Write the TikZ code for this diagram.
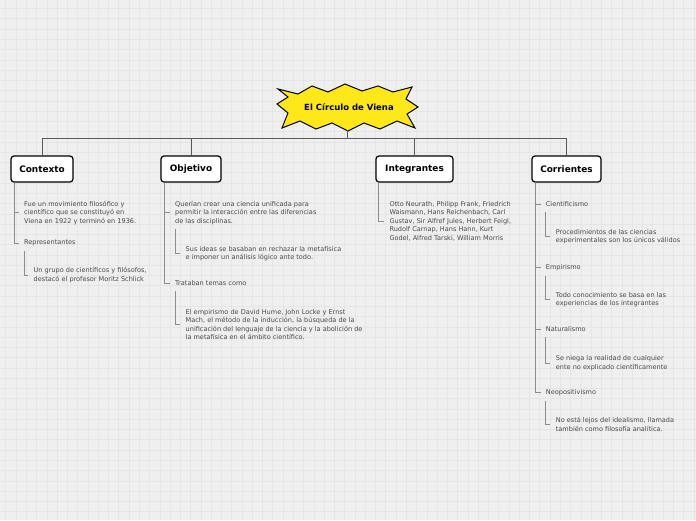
\documentclass[tikz,border=0pt]{standalone}
\usepackage{fontspec}
\setmainfont{DejaVu Sans}
\definecolor{bgc}{HTML}{EFEFEF}
\definecolor{gridc}{HTML}{E5E5E5}
\definecolor{starc}{HTML}{FFE81A}
\definecolor{txtc}{HTML}{4A4A4A}
\definecolor{mainln}{HTML}{5A5A5A}
\definecolor{subln}{HTML}{8C8C8C}
\tikzset{
  header/.style={draw=black, line width=1.2pt, rounded corners=3pt, fill=white, minimum height=26pt, inner xsep=0pt, font=\fontsize{8.9}{10}\bfseries\selectfont},
  leaf/.style={anchor=west, inner sep=0pt, align=left, text=txtc, font=\fontsize{6.55}{8.5}\selectfont},
  mainline/.style={draw=mainln, line width=0.8pt},
  subline/.style={draw=subln, line width=0.7pt},
}
\begin{document}
\begin{tikzpicture}[x=1pt,y=-1pt]
\fill[bgc] (0,0) rectangle (696,520);
\useasboundingbox (0,0) rectangle (696,520);
\foreach \i in {0,...,68} {\draw[gridc, line width=0.5pt] ({5.7+10.27*\i},0) -- ({5.7+10.27*\i},520);}
\foreach \i in {0,...,50} {\draw[gridc, line width=0.5pt] (0,{8.4+10.27*\i}) -- (696,{8.4+10.27*\i});}

% star
\draw[fill=starc, draw=black, line width=1pt, line join=miter]
 (278,89) -- (298,94) -- (312,86) -- (328,92) -- (345,84) -- (362,91) -- (378,86) -- (393,92) -- (412,87)
 -- (406,99) -- (418,107) -- (407,114) -- (415,128) -- (397,121) -- (380,129) -- (364,123) -- (348,131)
 -- (332,123) -- (316,129) -- (300,121) -- (282,128) -- (288,113) -- (277,104) -- (288,97) -- cycle;
\node[inner sep=0pt, font=\fontsize{8.5}{10}\bfseries\selectfont] (root) at (349,107.5) {El Círculo de Viena};
\coordinate (rootb) at (347,130);
\coordinate (bus) at (347,138);

% headers
\node[header, minimum width=62pt] (ctx) at (42,169) {Contexto};
\node[header, minimum width=60pt] (obj) at (191,169) {Objetivo};
\node[header, minimum width=77pt] (int) at (414.5,169) {Integrantes};
\node[header, minimum width=69pt] (cor) at (566.5,169) {Corrientes};

\draw[mainline] (rootb) -- (bus);
\draw[mainline] (bus) -| (ctx.north);
\draw[mainline] (bus) -| (obj.north);
\draw[mainline] (bus) -| (int.north);
\draw[mainline] (bus) -| (cor.north);

% Contexto
\node[leaf] (c1) at (24,212.7) {Fue un movimiento filosófico y\\científico que se constituyó en\\Viena en 1922 y terminó en 1936.};
\node[leaf] (c2) at (24,243) {Representantes};
\node[leaf] (c3) at (33.5,275.3) {Un grupo de científicos y filósofos,\\destacó el profesor Moritz Schlick};
\draw[subline] ([xshift=4pt]ctx.south west) |- ([xshift=-5pt]c1.west);
\draw[subline] ([xshift=4pt]ctx.south west) |- ([xshift=-5pt]c2.west);
\draw[subline] ([xshift=0pt,yshift=-5pt]c2.south west) |- ([xshift=-6pt]c3.west);

% Objetivo
\node[leaf] (o1) at (175,212.8) {Querían crear una ciencia unificada para\\permitir la interacción entre las diferencias\\de las disciplinas.};
\node[leaf] (o1a) at (185.5,253.5) {Sus ideas se basaban en rechazar la metafísica\\e imponer un análisis lógico ante todo.};
\node[leaf] (o2) at (175,283.3) {Trataban temas como};
\node[leaf] (o2a) at (185.5,324.5) {El empirismo de David Hume, John Locke y Ernst\\Mach, el método de la inducción, la búsqueda de la\\unificación del lenguaje de la ciencia y la abolición de\\la metafísica en el ámbito científico.};
\draw[subline] ([xshift=4pt]obj.south west) |- ([xshift=-5pt]o1.west);
\draw[subline] ([xshift=4pt]obj.south west) |- ([xshift=-5pt]o2.west);
\draw[subline] ([xshift=0.7pt,yshift=-4pt]o1.south west) |- ([xshift=-6pt]o1a.west);
\draw[subline] ([xshift=0.7pt,yshift=-5pt]o2.south west) |- ([xshift=-6pt]o2a.west);

% Integrantes
\node[leaf] (i1) at (389.3,221) {Otto Neurath, Philipp Frank, Friedrich\\Waismann, Hans Reichenbach, Carl\\Gustav, Sir Alfref Jules, Herbert Feigl,\\Rudolf Carnap, Hans Hann, Kurt\\Godel, Alfred Tarski, William Morris};
\draw[subline] ([xshift=3.3pt]int.south west) |- ([xshift=-5pt]i1.west);

% Corrientes
\node[leaf] (r1) at (545.7,204) {Cientificismo};
\node[leaf] (r1a) at (555.7,236.8) {Procedimientos de las ciencias\\experimentales son los únicos válidos};
\node[leaf] (r2) at (545.7,267.3) {Empirismo};
\node[leaf] (r2a) at (555.7,299.5) {Todo conocimiento se basa en las\\experiencias de los integrantes};
\node[leaf] (r3) at (545.7,329.3) {Naturalismo};
\node[leaf] (r3a) at (555.7,363) {Se niega la realidad de cualquier\\ente no explicado científicamente};
\node[leaf] (r4) at (545.7,392.7) {Neopositivismo};
\node[leaf] (r4a) at (555.7,424.5) {No está lejos del idealismo, llamada\\también como filosofía analítica.};
\foreach \n in {r1,r2,r3,r4} {\draw[subline] ([xshift=4pt]cor.south west) |- ([xshift=-5pt]\n.west);}
\draw[subline] ([yshift=-5pt]r1.south west) |- ([xshift=-6pt]r1a.west);
\draw[subline] ([yshift=-5pt]r2.south west) |- ([xshift=-6pt]r2a.west);
\draw[subline] ([yshift=-5pt]r3.south west) |- ([xshift=-6pt]r3a.west);
\draw[subline] ([yshift=-5pt]r4.south west) |- ([xshift=-6pt]r4a.west);
\end{tikzpicture}
\end{document}
